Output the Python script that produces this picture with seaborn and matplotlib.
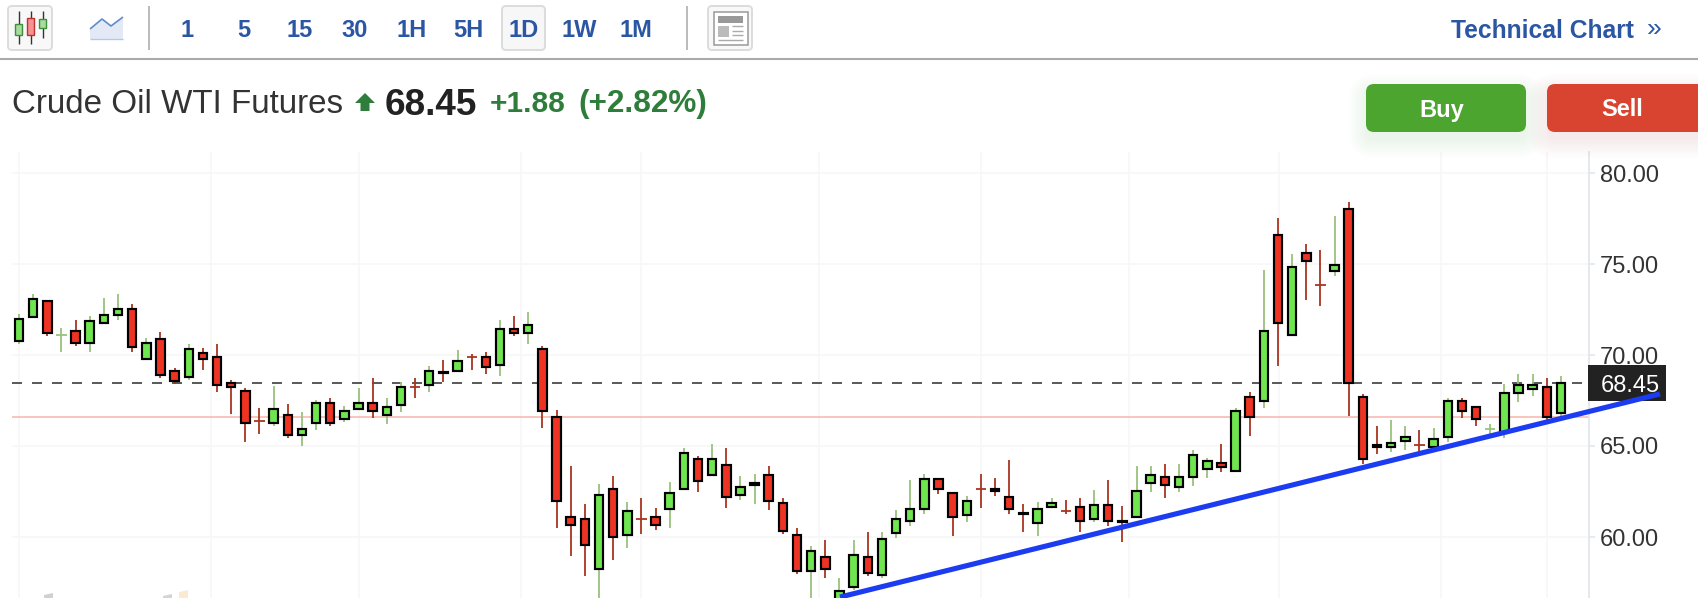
import numpy as np
import pandas as pd
import seaborn as sns
import matplotlib
matplotlib.use("Agg")
import matplotlib.pyplot as plt
from matplotlib.patches import FancyBboxPatch, Polygon, Rectangle
from matplotlib.lines import Line2D
from matplotlib.transforms import Affine2D

# ---------------- data (prices) ----------------
opens = [70.75,72.07,72.99,71.11,71.34,70.64,71.74,72.18,72.55,69.76,70.90,69.14,68.77,70.13,69.91,68.48,68.04,66.38,66.25,66.72,
         65.59,66.25,67.38,66.46,67.01,67.38,66.68,67.23,68.27,68.33,69.09,69.14,69.92,69.91,69.43,71.45,71.19,70.35,66.61,61.12,
         61.01,58.22,62.65,60.09,61.00,61.12,61.52,62.62,64.30,63.39,63.97,62.29,62.88,63.42,61.88,60.13,58.11,58.92,56.00,57.24,
         58.92,57.90,60.20,60.86,61.52,63.21,62.44,61.19,62.65,62.61,62.22,61.30,60.75,61.63,61.44,61.67,60.97,61.78,60.86,61.08,
         62.95,63.32,62.73,63.28,63.72,64.09,63.61,67.71,67.46,76.62,71.08,75.63,73.86,74.60,78.04,67.71,65.03,64.93,65.26,65.07,
         64.93,65.48,67.49,67.17,65.93,65.77,67.93,68.12,68.26,66.80]
highs = [72.25,73.35,72.99,71.48,71.92,72.14,73.13,73.35,72.80,70.93,71.26,69.29,70.60,70.38,70.60,68.63,68.19,67.09,68.30,67.31,
         66.87,67.53,67.64,67.20,68.19,68.74,67.64,68.52,68.74,69.39,69.72,70.27,70.05,70.16,71.92,72.14,72.36,70.49,66.98,63.90,
         61.81,62.91,63.35,61.92,62.14,61.59,63.02,64.89,64.45,65.11,64.89,63.35,63.46,63.90,62.14,60.49,59.50,59.83,57.75,59.84,
         60.28,60.28,61.49,63.13,63.46,63.21,62.44,62.26,63.46,63.24,64.23,61.82,61.93,62.15,62.04,62.15,62.58,63.13,61.71,63.90,
         63.90,64.01,64.01,64.78,64.34,65.11,67.09,67.97,74.67,77.53,75.55,76.10,75.77,77.64,78.41,67.86,66.10,66.43,66.10,65.88,
         65.99,67.64,67.64,67.17,66.21,68.41,68.96,68.96,68.74,68.85]
lows = [70.60,72.07,71.04,70.16,70.49,70.16,71.74,71.92,70.16,69.76,68.74,68.41,68.63,69.18,67.97,66.76,65.22,65.66,66.10,65.44,
        65.00,65.88,66.10,66.32,67.01,66.54,66.21,66.87,67.64,67.97,68.52,69.14,69.17,68.95,68.84,71.04,70.60,65.99,60.49,58.95,
        57.86,56.00,58.73,59.39,60.16,60.38,60.49,62.62,62.47,63.39,61.59,62.03,61.81,61.48,60.16,57.97,56.00,57.75,55.50,57.09,
        57.86,57.75,59.95,60.61,61.27,62.37,60.06,60.83,61.60,62.26,61.27,60.28,60.06,61.63,61.27,60.28,60.83,60.61,59.73,61.08,
        62.48,62.15,62.48,62.80,63.24,63.57,63.61,65.55,67.09,69.40,71.08,73.03,72.70,74.34,66.65,64.02,64.56,64.67,64.78,64.60,
        64.89,65.22,66.54,66.10,65.66,65.44,67.42,67.75,66.43,66.58]
closes = [72.00,73.09,71.19,71.12,70.64,71.89,72.22,72.55,70.42,70.68,68.88,68.55,70.35,69.76,68.33,68.22,66.25,66.37,67.05,65.59,
          65.95,67.38,66.25,66.94,67.38,66.90,67.16,68.26,68.26,69.14,69.03,69.69,69.91,69.32,71.45,71.19,71.67,66.90,61.96,60.64,
          59.54,62.32,59.98,61.45,60.99,60.64,62.43,64.63,63.06,64.30,62.18,62.76,62.94,61.96,60.31,58.11,59.25,58.22,57.05,59.03,
          58.01,59.91,61.01,61.56,63.21,62.62,61.08,62.00,62.64,62.55,61.52,61.24,61.56,61.89,61.43,60.86,61.78,60.86,60.80,62.55,
          63.43,62.84,63.32,64.53,64.20,63.83,66.94,66.62,71.34,71.74,74.86,75.15,73.85,74.97,68.47,64.27,64.97,65.15,65.52,65.06,
          65.41,67.49,66.91,66.47,65.94,67.93,68.37,68.37,66.58,68.48]
y_ticks = [60, 65, 70, 75, 80]
last_price = 68.45
ref_price = 66.57
trend_x = [58.04, 116.0]
trend_y = [56.70, 67.86]
grid_x = [0, 13.57, 24.03, 35.49, 43.97, 56.55, 68.0, 78.47, 89.07, 100.52, 108.02]
toolbar = ["1", "5", "15", "30", "1H", "5H", "1D", "1W", "1M"]
toolbar_px = [187, 244, 300, 355, 412, 468, 524, 579, 636]

# ---------------- style ----------------
W, H = 1698, 598
sns.set_theme(style="white")
plt.rcParams["font.family"] = ["Liberation Sans", "DejaVu Sans"]
plt.rcParams["lines.solid_capstyle"] = "butt"
plt.rcParams["lines.dash_capstyle"] = "butt"

GREEN, RED = "#6fe650", "#ee3322"
GWICK, RWICK = "#98c27c", "#a83520"
AXIS = "#e3e6ec"
GRID = "#f7f7f7"
BLUE = "#2a56a3"
UP = "#2f7d3b"

fig = plt.figure(figsize=(W / 100, H / 100), dpi=100, facecolor="white")
left, right, top, bottom = 12, 1589, 152, 598
ax = fig.add_axes([left / W, 1 - bottom / H, (right - left) / W, (bottom - top) / H])
PX = Affine2D().scale(1 / W, -1 / H).translate(0, 1) + fig.transFigure

df = pd.DataFrame({"i": np.arange(len(opens)), "o": opens, "h": highs, "l": lows, "c": closes})
df["up"] = df.c > df.o
df["cross"] = (df.c - df.o).abs() < 0.02

# wicks
long = pd.concat([df[["i", "up"]].assign(p=df.h), df[["i", "up"]].assign(p=df.l)]).sort_values("i")
sns.lineplot(data=long, x="i", y="p", units="i", hue="up", palette={True: GWICK, False: RWICK},
             estimator=None, sort=False, legend=False, lw=1.3, zorder=3, ax=ax)

# bodies
for flag, col in ((True, GREEN), (False, RED)):
    s = df[(df.up == flag) & ~df.cross]
    sns.barplot(x=s.i.values, y=(s.c - s.o).abs().values, bottom=np.minimum(s.o, s.c).values,
                native_scale=True, color=col, saturation=1, width=0.6, errorbar=None,
                edgecolor="black", linewidth=1.55, zorder=4, ax=ax)

# crosses (open equals close)
for flag, col in ((True, GWICK), (False, RWICK)):
    s = df[(df.up == flag) & df.cross]
    ax.hlines(s.c, s.i - 0.36, s.i + 0.36, color=col, lw=1.3, zorder=3)

ax.axhline(ref_price, color="#f6b4ac", lw=1.1, zorder=1.5)
ax.axhline(last_price, color="#3c3c3c", lw=1.2, ls=(0, (6, 6)), zorder=2,
           xmax=(1582 - left) / (right - left))

sns.lineplot(x=trend_x, y=trend_y, color="#1c3cf2", lw=3.7, zorder=7, ax=ax, legend=False)
ax.lines[-1].set_clip_on(False)
ax.lines[-1].set_solid_capstyle("butt")

ax.set_xlim((left - 19) / 14.146, (right - 19) / 14.146)
ax.set_ylim(70 - (bottom - 355) / 18.2, 70 + (355 - top) / 18.2)
ax.set_xticks(grid_x)
ax.set_xticklabels([])
ax.set_yticks(y_ticks)
ax.set_yticklabels([f"{v:.2f}" for v in y_ticks])
ax.yaxis.tick_right()
ax.tick_params(axis="x", length=0)
ax.tick_params(axis="y", length=4.3, width=1.2, color=AXIS, pad=3.6, labelsize=17, labelcolor="#333333")
ax.set_xlabel("")
ax.set_ylabel("")
ax.grid(True, color=GRID, lw=1.2, zorder=0)
ax.set_axisbelow(True)
for name, sp in ax.spines.items():
    sp.set_visible(name == "right")
sp = ax.spines["right"]
sp.set_color(AXIS)
sp.set_linewidth(1.3)

# last-price tag
ax.add_patch(Rectangle((1588, 365), 78, 36, transform=PX, facecolor="#222222", edgecolor="none",
                       clip_on=False, zorder=5))
ax.text(1630 / W, 1 - 386 / H, f"{last_price:.2f}", transform=fig.transFigure, color="white", fontsize=17,
        ha="center", va="center", zorder=6, clip_on=False)


# ---------------- header ----------------
def box(x0, y0, x1, y1, fc, ec="none", lw=0, r=0, alpha=None, z=3):
    if r:
        p = FancyBboxPatch((x0 + r, y0 + r), x1 - x0 - 2 * r, y1 - y0 - 2 * r,
                           boxstyle=f"round,pad={r},rounding_size={r}", transform=PX,
                           facecolor=fc, edgecolor=ec, linewidth=lw, alpha=alpha, zorder=z)
    else:
        p = Rectangle((x0, y0), x1 - x0, y1 - y0, transform=PX, facecolor=fc, edgecolor=ec,
                      linewidth=lw, alpha=alpha, zorder=z)
    fig.add_artist(p)


def seg(xs, ys, col, lw, z=4):
    fig.add_artist(Line2D(xs, ys, transform=PX, color=col, lw=lw, zorder=z, solid_capstyle="butt"))


def poly(pts, col, z=3):
    fig.add_artist(Polygon(pts, closed=True, transform=PX, facecolor=col, edgecolor="none", zorder=z))


def label(x, y, s, **kw):
    fig.text(x / W, 1 - y / H, s, zorder=6, **kw)


seg([0, W], [59, 59], "#aaaaaa", 1.5)
seg([149, 149], [6, 50], "#bbbbbb", 1.4)
seg([687, 687], [6, 50], "#bbbbbb", 1.4)

# candle icon
box(8, 6, 52, 50, "#f8f8f8", "#dcdcdc", 1.4, r=4)
for x, t, b, y0, y1, x0, x1, fc, ec in [(19, 11, 44, 24, 35, 15, 22, "#a9dba0", "#3f8f3a"),
                                        (31, 11, 44, 18, 35, 27, 34, "#f59292", "#bf3030"),
                                        (43, 11, 38, 19, 28, 39, 46, "#a9dba0", "#3f8f3a")]:
    seg([x, x], [t, b], "#333333", 1.0)
    box(x0, y0, x1, y1, fc, ec, 1.0, z=5)

# area icon
poly([(90, 29), (102, 19), (111, 26), (123, 17), (123, 39), (90, 39)], "#e3eaf6")
seg([90, 102, 111, 123], [29, 19, 26, 17], "#5f8dc8", 1.2)
seg([90, 123], [39, 39], "#b9c8df", 1.0)

for x, t in zip(toolbar_px, toolbar):
    if t == "1D":
        box(502, 6, 545, 50, "#f7f7f7", "#dcdcdc", 1.4, r=4)
    label(x, 30.5, t, color=BLUE, fontsize=17, fontweight="bold", ha="center", va="center")

# news icon
box(708, 6, 752, 50, "#f8f8f8", "#dcdcdc", 1.4, r=4)
box(714, 12, 748, 45, "#ffffff", "#999999", 1.1)
box(718, 16, 743, 23, "#999999", z=5)
box(718, 26, 729, 37, "#bbbbbb", z=5)
for y in (26, 30.5, 35):
    seg([732, 743], [y, y], "#aaaaaa", 1.0, z=5)
seg([718, 743], [39.5, 39.5], "#aaaaaa", 1.0, z=5)

label(1451, 30.5, "Technical Chart", color=BLUE, fontsize=17.7, fontweight="bold", ha="left", va="center")
label(1647, 29, "»", color=BLUE, fontsize=19, ha="left", va="center")

# quote line
label(12, 113, "Crude Oil WTI Futures", color="#333333", fontsize=23.9, ha="left", va="baseline")
poly([(365, 93), (375, 103), (369.5, 103), (369.5, 111), (360.5, 111), (360.5, 103), (355, 103)], UP)
label(385, 115, "68.45", color="#222222", fontsize=26.6, fontweight="bold", ha="left", va="baseline")
label(490, 112, "+1.88", color=UP, fontsize=21.5, fontweight="bold", ha="left", va="baseline")
label(578, 112, "(+2.82%)", color=UP, fontsize=22.7, fontweight="bold", ha="left", va="baseline")

# buttons with soft shadow
for x0, x1, col, t, tx in [(1366, 1526, "#4ca52f", "Buy", 1442),
                           (1547, 1760, "#d94431", "Sell", 1622)]:
    for g in range(1, 11):
        e = 20 - 2 * g
        box(x0 - e, 84 + 8 - e, x1 + e, 132 + 8 + e, col, r=8 + e, alpha=0.009, z=2)
    box(x0, 84, x1, 132, col, r=8, z=3)
    label(tx, 110, t, color="white", fontsize=17, fontweight="bold", ha="center", va="center")

# faint watermark remnants at the bottom edge
poly([(44, 595), (53, 593), (53, 598), (44, 598)], "#d0d0d0")
poly([(163, 596), (172, 594), (172, 598), (163, 598)], "#d4d4d4")
poly([(179, 592), (188, 590), (188, 598), (179, 598)], "#fbe9d2")

fig.savefig("out.png", dpi=100, facecolor="white")
